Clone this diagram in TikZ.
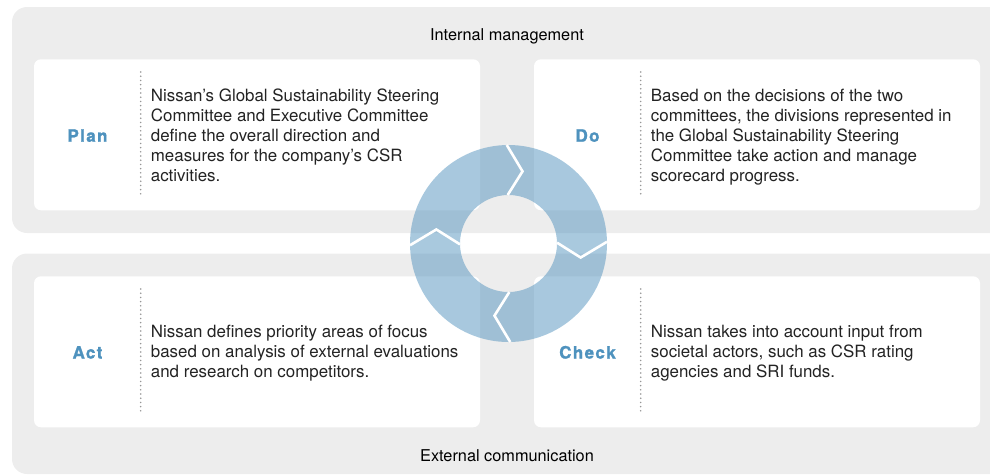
\documentclass[tikz,border=0pt]{standalone}
\usepackage{fontspec}
\setmainfont{TeX Gyre Heros}
\newfontfamily\labelfont{texgyreheros-bold.otf}[LetterSpace=8,FakeBold=1.3]
\definecolor{panel}{RGB}{237,237,237}
\definecolor{pdcablue}{RGB}{78,146,190}
\definecolor{ringblue}{RGB}{83,147,190}
\definecolor{dotgray}{RGB}{150,150,150}
\definecolor{bodytext}{RGB}{35,35,35}
\begin{document}
\begin{tikzpicture}[x=1pt,y=-1pt,
  panelbox/.style={fill=panel, rounded corners=15pt},
  cardbox/.style={fill=white, rounded corners=7pt, inner sep=0pt, minimum width=446pt, minimum height=151pt},
  steplabel/.style={font=\labelfont\fontsize{17}{20}\selectfont, text=pdcablue, anchor=base, inner sep=0pt},
  bodytxt/.style={font=\fontsize{16.9}{20}\selectfont, text=bodytext, anchor=base west, align=left, inner sep=0pt},
  titletxt/.style={font=\fontsize{16.3}{20}\selectfont, text=black, anchor=base, inner sep=0pt},
  dotline/.style={draw=dotgray, line width=1.7pt, line cap=round, dash pattern=on 0pt off 4.2pt},
  ringshape/.style={fill=ringblue, fill opacity=0.5, even odd rule},
  sepline/.style={draw=white, line width=2.6pt, line join=miter}
]
\useasboundingbox (0,0) rectangle (990,475);
% panels
\begin{scope}
  \clip (0,0) rectangle (990,475);
  \fill[panelbox] (12,7) rectangle (1030,233);
  \fill[panelbox] (12,253.5) rectangle (1030,474);
\end{scope}
% titles
\node[titletxt] (tint) at (507,40.7) {Internal management};
\node[titletxt] (text) at (507,461.7) {External communication};
% cards
\node[cardbox] (plancard)  at (257,134.75) {};
\node[cardbox] (docard)    at (757,134.75) {};
\node[cardbox] (actcard)   at (257,351.75) {};
\node[cardbox] (checkcard) at (757,351.75) {};
% labels
\node[steplabel] (plan)  at (87.5,141.7)  {Plan};
\node[steplabel] (do)    at (587.5,141.7) {Do};
\node[steplabel] (act)   at (87.5,358.5)  {Act};
\node[steplabel] (check) at (587.5,358.5) {Check};
% dotted separators
\draw[dotline] (140.7,72) -- (140.7,197);
\draw[dotline] (640.7,72) -- (640.7,197);
\draw[dotline] (140.7,289) -- (140.7,414);
\draw[dotline] (640.7,289) -- (640.7,414);
% body texts (base anchor = last line baseline)
\node[bodytxt] (plantxt) at (150.7,181.7) {Nissan's Global Sustainability Steering\\Committee and Executive Committee\\define the overall direction and\\measures for the company's CSR\\activities.};
\node[bodytxt] (dotxt) at (650.7,181.7) {Based on the decisions of the two\\committees, the divisions represented in\\the Global Sustainability Steering\\Committee take action and manage\\scorecard progress.};
\node[bodytxt] (acttxt) at (150.7,377.7) {Nissan defines priority areas of focus\\based on analysis of external evaluations\\and research on competitors.};
\node[bodytxt] (checktxt) at (650.7,377.7) {Nissan takes into account input from\\societal actors, such as CSR rating\\agencies and SRI funds.};
% cycle ring
\coordinate (rc) at (508.5,243.5);
\fill[ringshape] (rc) circle (98.5) (rc) circle (48.5);
\begin{scope}[shift={(rc)}, yscale=-1]
  \foreach \k in {0,1,2,3} {
    \draw[sepline] ({91+90*\k}:48.5) -- ({79+90*\k}:73.5) -- ({91+90*\k}:98.5);
  }
\end{scope}
\end{tikzpicture}
\end{document}
